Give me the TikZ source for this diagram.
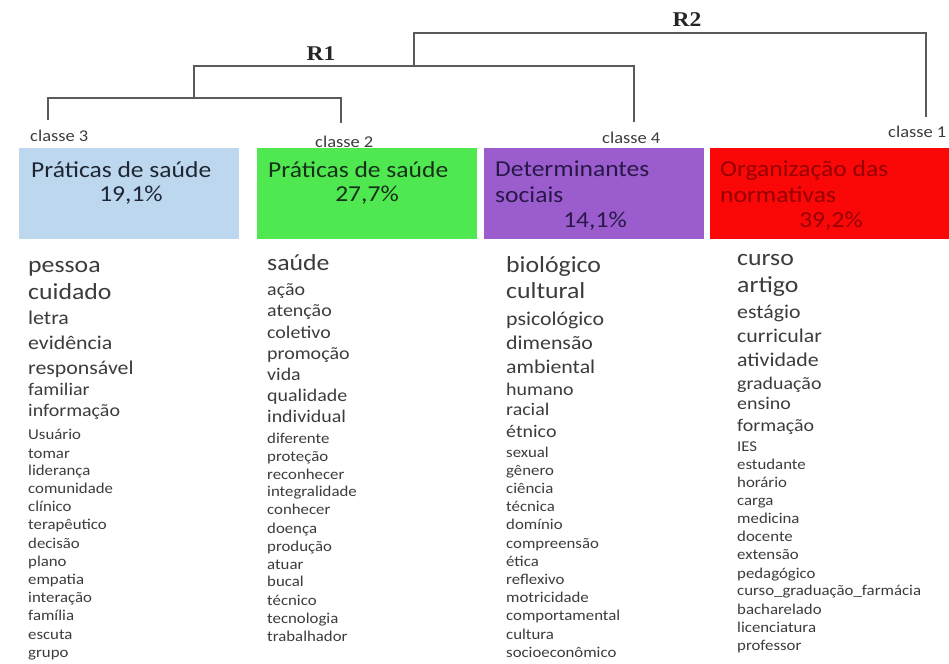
\documentclass[tikz,border=0pt]{standalone}
\usepackage{fontspec}
\setmainfont{Carlito}[FakeStretch=1.12]
\newfontfamily\rfont{Liberation Serif}[FakeStretch=1.12]
\usepackage{xcolor}
\usepackage{tikz}

\definecolor{boxblue}{RGB}{189,215,238}
\definecolor{boxgreen}{RGB}{80,232,80}
\definecolor{boxpurple}{RGB}{155,92,206}
\definecolor{boxred}{RGB}{250,8,8}
\definecolor{txtblue}{RGB}{30,38,52}
\definecolor{txtgreen}{RGB}{22,48,26}
\definecolor{txtpurple}{RGB}{40,24,72}
\definecolor{txtred}{RGB}{150,0,0}
\definecolor{wordgray}{RGB}{60,60,60}
\definecolor{linegray}{RGB}{90,90,90}

\newcommand\fsz[1]{\fontsize{#1}{#1}\selectfont}

\tikzset{
  dendro/.style={draw=linegray, line width=2pt},
  rlabel/.style={anchor=base, inner sep=0pt, font=\rfont\bfseries\fsz{21}, text=black!85},
  classlabel/.style={anchor=base west, inner sep=0pt, font=\fsz{16.5}, text=wordgray},
  classbox/.style={anchor=north west, inner sep=0pt, minimum height=91pt, minimum width=220pt},
  boxtitle/.style={anchor=base west, inner sep=0pt, font=\fsz{22.8}},
  pct/.style={anchor=base, inner sep=0pt, font=\fsz{22.8}},
  wordL/.style={anchor=mid west, inner sep=0pt, text=wordgray, font=\fsz{23}},
  wordM/.style={anchor=mid west, inner sep=0pt, text=wordgray, font=\fsz{19.5}},
  wordN/.style={anchor=mid west, inner sep=0pt, text=wordgray, font=\fsz{17.8}},
  wordS/.style={anchor=mid west, inner sep=0pt, text=wordgray, font=\fsz{15}}
}

\begin{document}
\begin{tikzpicture}[x=1pt, y=-1pt]

\useasboundingbox (0,0) rectangle (949,663);

% leaf ends of the dendrogram
\coordinate (l3) at (48,120);
\coordinate (l2) at (341,123);
\coordinate (l4) at (634,122);
\coordinate (l1) at (926,117);
\coordinate (j32) at (194,98);
\coordinate (jR1) at (194,66);
\coordinate (jR2) at (414,66);

% dendrogram
\draw[dendro] (l3) |- (j32) -| (l2);
\draw[dendro] (j32) -- (jR1) -| (l4);
\draw[dendro] (jR2) -- ++(0,-33) -| (l1);

\node[rlabel] (R1) at (321,61) {R1};
\node[rlabel] (R2) at (687,27) {R2};

% class labels
\node[classlabel] (k3) at (30,142) {classe 3};
\node[classlabel] (k2) at (315,148) {classe 2};
\node[classlabel] (k4) at (602,144) {classe 4};
\node[classlabel] (k1) at (888,138) {classe 1};

% coloured boxes
\node[classbox, fill=boxblue] (b3) at (19,148) {};
\node[classbox, fill=boxgreen] (b2) at (257,148) {};
\node[classbox, fill=boxpurple] (b4) at (484,148) {};
\node[classbox, fill=boxred, minimum width=240pt] (b1) at (710,148) {};

% box texts
\node[boxtitle, text=txtblue] (t3) at (31,177) {Práticas de saúde};
\node[pct, text=txtblue] (p3) at (131,201) {19,1\%};
\node[boxtitle, text=txtgreen] (t2) at (268,177) {Práticas de saúde};
\node[pct, text=txtgreen] (p2) at (367,201) {27,7\%};
\node[boxtitle, text=txtpurple] (t4a) at (495,176) {Determinantes};
\node[boxtitle, text=txtpurple] (t4b) at (495,202) {sociais};
\node[pct, text=txtpurple] (p4) at (595,227) {14,1\%};
\node[boxtitle, text=txtred] (t1a) at (720,176) {Organização das};
\node[boxtitle, text=txtred] (t1b) at (720,202) {normativas};
\node[pct, text=txtred] (p1) at (831,227) {39,2\%};

% word list of classe 3
\foreach \w/\sz/\y [count=\i] in {pessoa/L/270, cuidado/L/297, letra/M/322,
    evidência/M/347, responsável/M/372, familiar/N/393, informação/N/414,
    Usuário/S/437, tomar/S/456, liderança/S/473, comunidade/S/491,
    clínico/S/509, terapêutico/S/527, decisão/S/546, plano/S/564,
    empatia/S/582, interação/S/600, família/S/618, escuta/S/637, grupo/S/655}
  \node[word\sz] (w3-\i) at (28,\y) {\w};

% word list of classe 2
\foreach \w/\sz/\y [count=\i] in {saúde/L/268, ação/N/293, atenção/N/314,
    coletivo/N/336, promoção/N/357, vida/N/378, qualidade/N/399,
    individual/N/420, diferente/S/441, proteção/S/459, reconhecer/S/477,
    integralidade/S/494, conhecer/S/512, doença/S/531, produção/S/549,
    atuar/S/567, bucal/S/584, técnico/S/603, tecnologia/S/621, trabalhador/S/639}
  \node[word\sz] (w2-\i) at (267,\y) {\w};

% word list of classe 4
\foreach \w/\sz/\y [count=\i] in {biológico/L/270, cultural/L/296,
    psicológico/M/323, dimensão/M/347, ambiental/M/371, humano/N/393,
    racial/N/413, étnico/N/435, sexual/S/455, gênero/S/473, ciência/S/491,
    técnica/S/509, domínio/S/527, compreensão/S/546, ética/S/564,
    reflexivo/S/582, motricidade/S/600, comportamental/S/618, cultura/S/637,
    socioeconômico/S/655}
  \node[word\sz] (w4-\i) at (506,\y) {\w};

% word list of classe 1
\foreach \w/\sz/\y [count=\i] in {curso/L/263, artigo/L/290, estágio/M/316,
    curricular/M/340, atividade/M/364, graduação/N/387, ensino/N/407,
    formação/N/429, IES/S/449, estudante/S/467, horário/S/485, carga/S/503,
    medicina/S/521, docente/S/539, extensão/S/557, pedagógico/S/576,
    curso\_graduação\_farmácia/S/593, bacharelado/S/612, licenciatura/S/630,
    professor/S/648}
  \node[word\sz] (w1-\i) at (737,\y) {\w};

\end{tikzpicture}
\end{document}
